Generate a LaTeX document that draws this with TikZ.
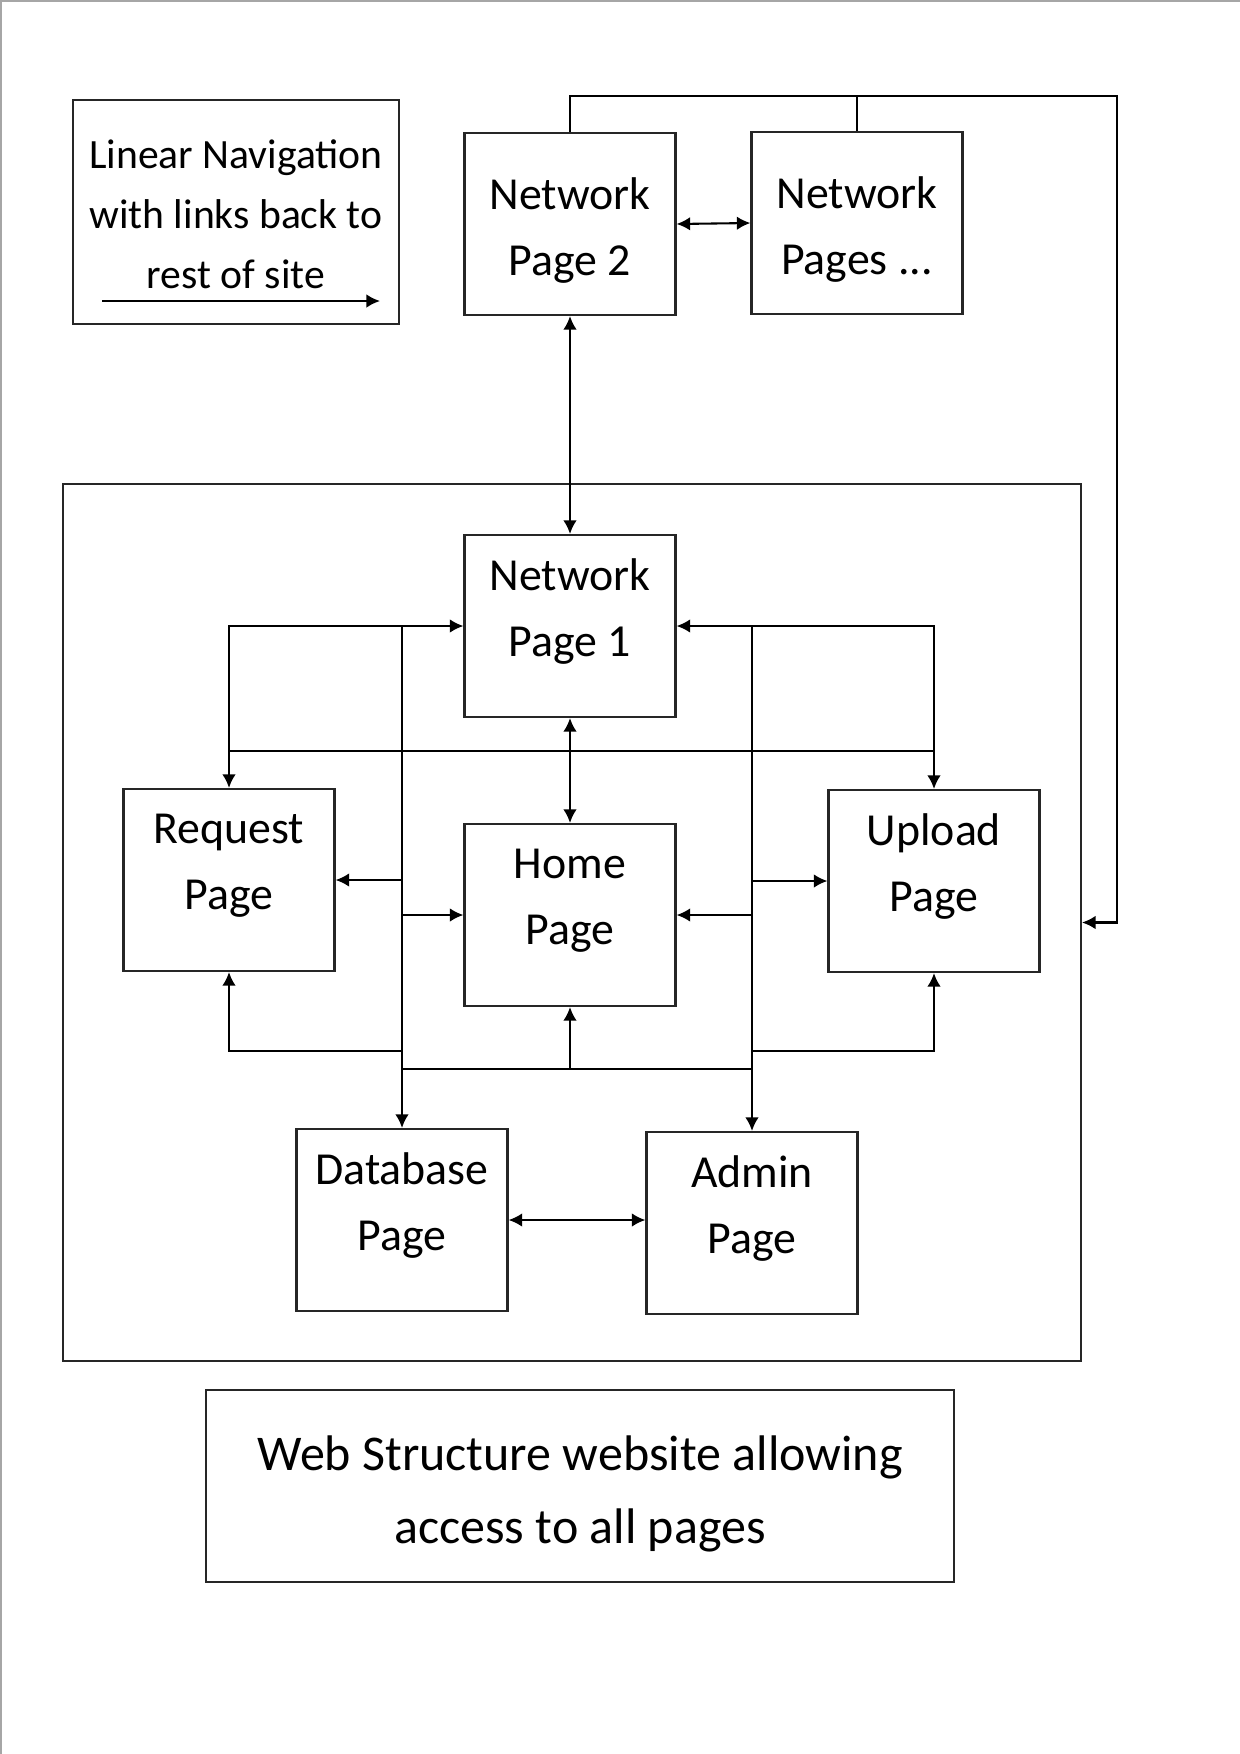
\documentclass[tikz,border=0pt]{standalone}
\usepackage{fontspec}
\setmainfont{Carlito}
\usetikzlibrary{arrows.meta}

\tikzset{
  pagebox/.style={draw=black!85,line width=1pt,minimum width=101.3pt,minimum height=87.4pt,inner sep=0pt},
  boxtext/.style={align=center,font=\fontsize{22}{31.7}\selectfont},
  frame/.style={draw=black!85,line width=1pt,inner sep=0pt},
  link/.style={line width=1pt},
}

\begin{document}
\begin{tikzpicture}[x=0.48pt,y=-0.48pt,>={Latex[length=6.5pt,width=6.5pt]}]
  % sheet of 1240 x 1754 px, y grows downwards
  \useasboundingbox (0,0) rectangle (1240,1754);
  \draw[black!35,line width=2pt] (0,1754) -- (0,0) -- (1240,0);

  % key
  \node[frame,minimum width=156.5pt,minimum height=107.5pt] (legend) at (236,212) {};
  \node[align=center,font=\fontsize{20}{28.8}\selectfont] at ([yshift=-1pt]legend.center)
        {Linear Navigation\\with links back to\\rest of site};
  \coordinate (navA) at (102,301);
  \coordinate (navB) at (380,301);
  \draw[link,->] (navA) -- (navB);

  % network pages outside the site
  \node[pagebox] (np2) at (570,224) {};
  \node[boxtext] at ([yshift=-3pt]np2.center) {Network\\Page 2};
  \node[pagebox] (nps) at (857,223) {};
  \node[boxtext] at ([yshift=-3pt]nps.center) {Network\\Pages ...};

  % the site
  \node[frame,minimum width=488.6pt,minimum height=421pt] (site) at (572,922.5) {};

  \node[pagebox] (np1) at (570,626) {};
  \node[boxtext] at ([yshift=7pt]np1.center) {Network\\Page 1};
  \node[pagebox] (req) at (229,880) {};
  \node[boxtext] at ([yshift=7pt]req.center) {Request\\Page};
  \node[pagebox] (home) at (570,915) {};
  \node[boxtext] at ([yshift=7pt]home.center) {Home\\Page};
  \node[pagebox] (upl) at (934,881) {};
  \node[boxtext] at ([yshift=7pt]upl.center) {Upload\\Page};
  \node[pagebox] (db) at (402,1220) {};
  \node[boxtext] at ([yshift=7pt]db.center) {Database\\Page};
  \node[pagebox] (adm) at (752,1223) {};
  \node[boxtext] at ([yshift=7pt]adm.center) {Admin\\Page};

  \node[frame,minimum width=358.6pt,minimum height=92.2pt] (caption) at (580,1486) {};
  \node[align=center,font=\fontsize{24}{34.9}\selectfont] at ([yshift=-3.7pt]caption.center)
        {Web Structure website allowing\\access to all pages};

  \coordinate (ret) at (1117,96);
  \coordinate (mid) at (570,751);
  \coordinate (low) at (570,1051);
  \coordinate (bus) at (570,1069);

  % links
  \draw[link,<->] (np2.east) -- (nps.west);
  \draw[link] (nps.north) -- (nps.north |- ret);
  \draw[link,->] (np2.north) |- (ret) |- (site.east);
  \draw[link,<->] (np2.south) -- (np1.north);

  \draw[link,<->] (req.north) |- (np1.west);
  \draw[link,<->] (upl.north) |- (np1.east);
  \draw[link,->] (db.north |- np1.west) -- (db.north);
  \draw[link,->] (adm.north |- np1.east) -- (adm.north);
  \draw[link] (req.north |- mid) -- (upl.north |- mid);
  \draw[link,<->] (np1.south) -- (home.north);

  \draw[link,<->] (req.east) -- (req.east -| db.north) |- (home.west);
  \draw[link,<->] (home.east) -- (home.east -| adm.north) |- (upl.west);

  \draw[link,->] (low -| db.north) -| (req.south);
  \draw[link,->] (low -| adm.north) -| (upl.south);
  \draw[link] (bus -| db.north) -- (bus -| adm.north);
  \draw[link,->] (bus -| home.south) -- (home.south);
  \draw[link,<->] (db.east) -- (db.east -| adm.west);
\end{tikzpicture}
\end{document}
